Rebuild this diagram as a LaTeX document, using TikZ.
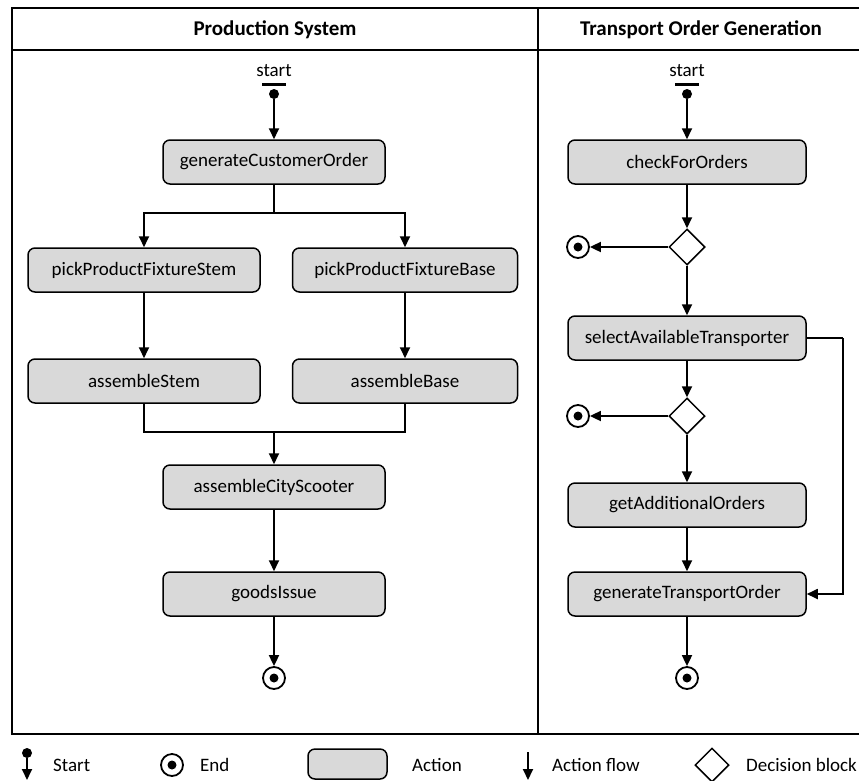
\documentclass[tikz,border=0pt]{standalone}
\usepackage{fontspec}
\setmainfont{Carlito}
\usetikzlibrary{arrows.meta,shapes.geometric,positioning}
\definecolor{actiongray}{HTML}{D9D9D9}
\tikzset{
  action/.style={draw, line width=1.5pt, rounded corners=7pt, fill=actiongray,
    minimum width=222pt, minimum height=44pt, inner sep=0pt,
    font=\fontsize{19}{22}\selectfont},
  wideaction/.style={action, minimum width=238pt},
  decision/.style={draw, diamond, line width=1.5pt, minimum size=36pt, inner sep=0pt, fill=white},
  endnode/.style={draw, circle, line width=1.8pt, minimum size=22pt, inner sep=0pt,
    path picture={\fill (path picture bounding box.center) circle (4.5pt);}},
  startdot/.style={circle, fill, minimum size=10pt, inner sep=0pt},
  startbar/.style={fill, minimum width=24pt, minimum height=3pt, inner sep=0pt},
  flow/.style={line width=1.8pt, -{Triangle[width=10pt,length=11pt]}},
  plain/.style={line width=1.8pt},
  lane/.style={font=\bfseries\fontsize{21}{24}\selectfont},
  txt/.style={font=\fontsize{19}{22}\selectfont, inner sep=0pt},
}
\begin{document}
\begin{tikzpicture}[x=1pt,y=-1pt]
  \useasboundingbox (0,0) rectangle (859,780);

  % swimlanes
  \draw[line width=1.5pt] (12,8) rectangle (870,734);
  \draw[line width=1.5pt] (12,50) -- (870,50);
  \draw[line width=1.5pt] (538,8) -- (538,734);
  \node[lane] (prodlane) at (275,30) {Production System};
  \node[lane] (translane) at (701,30) {Transport Order Generation};

  % production system
  \node[startbar, label={[txt, label distance=5pt]above:start}] (pbar) at (274,84) {};
  \node[startdot] (pstart) at (274,94) {};
  \node[action] (gco) at (274,162) {generateCustomerOrder};
  \node[action, minimum width=232pt] (pfs) at (144,270) {pickProductFixtureStem};
  \node[action, minimum width=225pt] (pfb) at (405,270) {pickProductFixtureBase};
  \node[action, minimum width=232pt] (ast) at (144,381) {assembleStem};
  \node[action, minimum width=225pt] (abs) at (405,381) {assembleBase};
  \node[action] (acs) at (274,487) {assembleCityScooter};
  \node[action] (gis) at (274,594) {goodsIssue};
  \node[endnode] (pend) at (274,678) {};
  \coordinate (split) at (274,213);
  \coordinate (merge) at (274,432);

  \draw[flow] (pstart) -- (gco);
  \draw[plain] (gco) -- (split);
  \draw[flow] (split) -| (pfs);
  \draw[flow] (split) -| (pfb);
  \draw[flow] (pfs) -- (ast);
  \draw[flow] (pfb) -- (abs);
  \draw[plain] (ast) |- (merge);
  \draw[plain] (abs) |- (merge);
  \draw[flow] (merge) -- (acs);
  \draw[flow] (acs) -- (gis);
  \draw[flow] (gis) -- (pend);

  % transport order generation
  \node[startbar, label={[txt, label distance=5pt]above:start}] (tbar) at (687,84) {};
  \node[startdot] (tstart) at (687,94) {};
  \node[wideaction] (cfo) at (687,162) {checkForOrders};
  \node[decision] (dec1) at (687,247) {};
  \node[endnode] (end1) at (578,247) {};
  \node[wideaction] (sat) at (687,338) {selectAvailableTransporter};
  \node[decision] (dec2) at (687,416) {};
  \node[endnode] (end2) at (578,416) {};
  \node[wideaction] (gao) at (687,505) {getAdditionalOrders};
  \node[wideaction] (gto) at (687,594) {generateTransportOrder};
  \node[endnode] (tend) at (687,678) {};
  \coordinate (loop) at (843,338);

  \draw[flow] (tstart) -- (cfo);
  \draw[flow] (cfo) -- (dec1);
  \draw[flow] (dec1) -- (end1);
  \draw[flow] (dec1) -- (sat);
  \draw[flow] (sat) -- (dec2);
  \draw[flow] (dec2) -- (end2);
  \draw[flow] (dec2) -- (gao);
  \draw[flow] (gao) -- (gto);
  \draw[plain] (sat.east) -- (loop);
  \draw[flow] (loop) |- (gto.east);
  \draw[flow] (gto) -- (tend);

  % legend
  \node[startdot] (lgdot) at (27,753) {};
  \coordinate (lgdotend) at (27,780);
  \draw[flow] (lgdot) -- (lgdotend);
  \node[txt, anchor=west] (lgstart) at (53,765) {Start};
  \node[endnode] (lgend) at (172,765) {};
  \node[txt, anchor=west] (lgendtxt) at (200,765) {End};
  \node[action, minimum width=79pt, minimum height=30pt] (lgact) at (347.5,764) {};
  \node[txt, anchor=west] (lgacttxt) at (412,765) {Action};
  \coordinate (lgflow) at (528,752);
  \coordinate (lgflowend) at (528,780);
  \draw[flow] (lgflow) -- (lgflowend);
  \node[txt, anchor=west] (lgflowtxt) at (552,765) {Action flow};
  \node[decision, minimum size=34pt] (lgdec) at (712,765) {};
  \node[txt, anchor=west] (lgdectxt) at (746,765) {Decision block};
\end{tikzpicture}
\end{document}
